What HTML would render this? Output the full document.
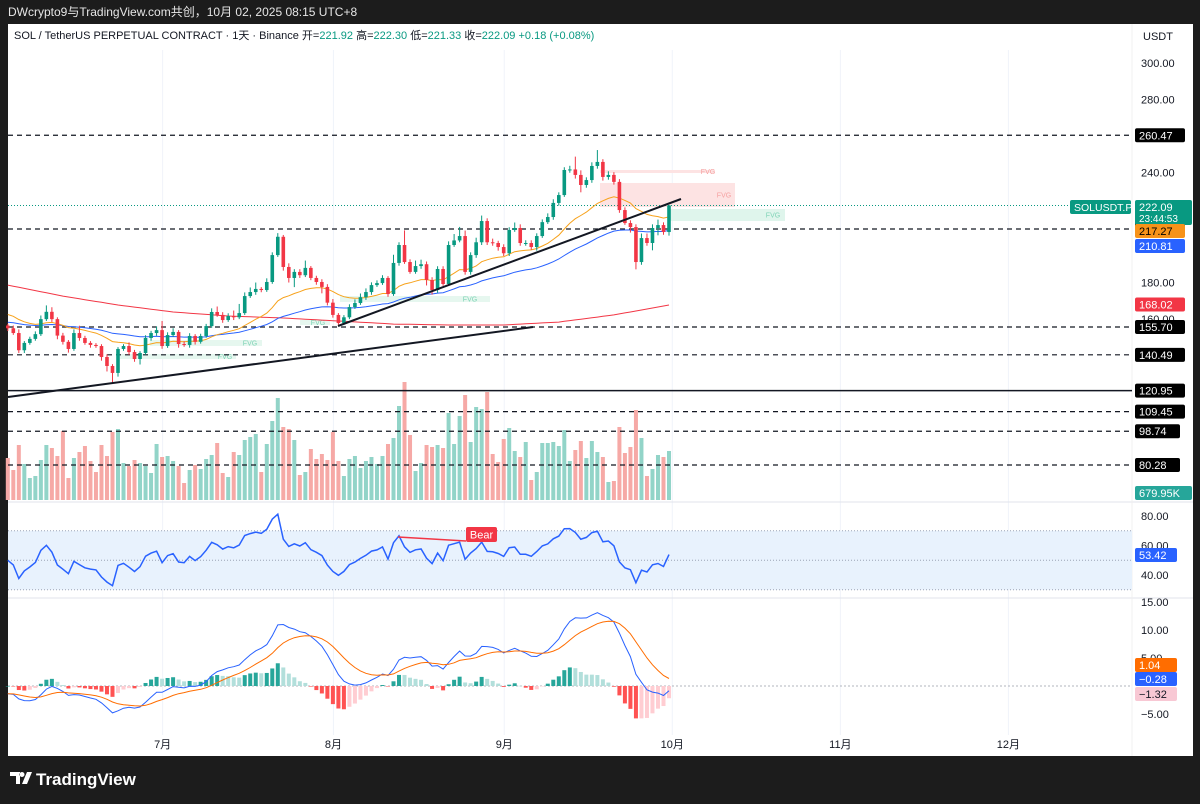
<!DOCTYPE html>
<html><head><meta charset="utf-8">
<style>
body{margin:0;background:#1a1a1a;width:1200px;height:804px;overflow:hidden;font-family:"Liberation Sans","Noto Sans CJK SC",sans-serif}
svg{display:block}
text{font-family:"Liberation Sans","Noto Sans CJK SC",sans-serif}
</style></head>
<body>
<svg id="c" width="1200" height="804" viewBox="0 0 1200 804">
<rect x="0" y="0" width="1200" height="804" fill="#1c1c1c"/>
<text x="8" y="16" fill="#e6e6e6" font-size="12">DWcrypto9与TradingView.com共创，10月 02, 2025 08:15 UTC+8</text>
<rect x="8" y="24" width="1185" height="732" fill="#ffffff"/>
<g id="grid"></g>
<g id="price"></g>
<g id="rsi"></g>
<g id="macd"></g>
<g id="axis"></g>
<text x="14" y="39" font-size="11" fill="#131722">SOL / TetherUS PERPETUAL CONTRACT · 1天 · Binance  开=<tspan fill="#089981">221.92</tspan>  高=<tspan fill="#089981">222.30</tspan>  低=<tspan fill="#089981">221.33</tspan>  收=<tspan fill="#089981">222.09</tspan>  <tspan fill="#089981">+0.18 (+0.08%)</tspan></text>
<text x="1143" y="40" font-size="11" fill="#131722">USDT</text>
<g>
<path d="M10 772h10v12h-4v-8h-6z M22 772a2.5 2.5 0 1 0 0.01 0z M27 772h5l-5 12h-5z" fill="#ffffff"/>
<text x="36" y="785" fill="#ffffff" font-size="17" font-weight="bold">TradingView</text>
</g>
</svg>
<script>
const closes=[155,152.4,143,147,149.2,151.8,160,164,160,151,147.6,143.7,152.4,149.7,147,145.9,145.3,139.3,134.4,130.6,143.7,145.3,142,138.2,141.5,149.7,152.4,154,145.3,151.3,153,146.4,145.9,150.8,147.6,150.8,156.2,163.9,162.3,159.5,161.7,161,163.3,172.6,174.8,176.5,175.9,180.3,195,205,188.5,182.5,185.8,184,188,182.5,180.3,177.6,169,162.3,157.9,161,166.6,168.8,172,174.8,178.6,179.7,182.5,173.7,190.7,200.5,191.2,185.8,189,190,181.4,175.9,187.4,179.2,200.5,203,205.4,185.8,195,202,213.6,202,201.6,199.4,196,208.7,209.8,201.6,201.6,199.4,205.4,213,215.8,223.5,227.8,241.5,241.8,238.8,233.3,236,243.7,245.9,237.7,238.8,235,219.6,212.5,210.3,191.2,204.3,201.6,209.8,211.4,207.6,222.1];
const firstOpen=156.5;
const upperWick=[1,1.5,2,1,1.2,1.5,2,3.5,2.5,1,1.5,1,2,4,1.2,1,1,1,1.5,1,1,1,2,1.2,1,1.5,1.2,2,5,1.5,2,1,1.5,1.5,1,1.2,1.2,2,3,1.5,1.5,3,5,2,2.5,3.5,1,2,1.5,2,1,2,1.5,1.5,4,1,1.2,1.5,1.5,2,1,1.2,1.5,2,2,2,1.5,1.5,1.5,1,4.5,1.5,8,1.5,3,2.5,1.5,1.5,1.5,1.5,2,3.5,5,3,1.5,2.5,3,1.5,2,1.2,1.5,1.5,3,2,1.5,1.5,1.5,1.5,2,2,1.5,1.5,2,7,2.5,1.5,2,6.5,1.5,2,1.5,1.5,1.5,1.5,1.5,2.5,2.5,2,3,1.5,0.3];
const lowerWick=[1.5,1,1.5,1.5,1,1,1,1,1.5,2,1.5,2,1,1.5,1,1.5,1,2,3,5.5,2,1,1.5,1.5,3,1,1.5,1.5,1.5,1,1,2,1,1.5,1.5,1,1,1,1,1.5,1,1.5,1,1,1,1.5,1.2,1,1,1,2,2.5,5,1.5,1,1.2,1.5,3.5,1.5,1.5,1,1,1,1,1,1.5,1.5,1,1,1.5,1,1.5,1,1,1,1.5,3,2.5,1.5,1,1,1,1,1.5,1.5,1.5,1.5,1.5,1.5,2,1.5,1.5,1,1.5,1.5,1.5,2,1,1,1.5,1.5,1,1.5,2,4,1.5,1.5,1.5,2,1.5,1.5,1.5,1,3,4,1.5,1.5,4,4,1.5,2];
const volumes=[42,30,55,36,22,24,40,55,52,44,69,22,42,48,54,39,28,55,44,68,71,37,34,40,37,34,27,56,43,44,39,34,17,30,35,31,41,45,57,27,23,48,45,60,63,66,28,56,79,102,73,71,60,25,28,51,41,46,40,68,39,24,41,44,32,39,43,36,44,56,62,94,118,65,29,37,55,53,55,52,87,56,84,105,58,93,91,108,46,38,61,72,49,43,58,20,28,57,57,58,54,70,39,50,59,42,59,48,43,18,19,73,47,53,90,62,24,31,45,43,49];
const ma200Samples=[178.6,172.6,167.7,163.9,161.7,160.6,159,157.3,156.8,156.8,158.4,162.3,167.7];
const hLevels=[260.47,209.24,155.70,140.49,109.45,98.74,80.28];
const hLevelLabels=["260.47","209.24","155.70","140.49","109.45","98.74","80.28"];
const solidLevel=120.95;
const priceTicks=[300,280,240,180,160];
const monthLabels=["7月","8月","9月","10月","11月","12月"];
const monthIdx=[28.1,59.1,90.1,120.6,151.1,181.6];
const rsiTicks=[80,60,40];
const macdTicks=[15,10,5,-5];

const NS="http://www.w3.org/2000/svg";
const N=closes.length;
const xI=i=>669-(N-1-i)*5.51;
const yP=p=>327-(p-155.7)*1.83;
const yV=v=>500-v;
const yR=v=>575-(v-40)*1.475;
const yM=v=>686-v*5.6;
function mk(tag,attrs,parent){const e=document.createElementNS(NS,tag);for(const k in attrs)e.setAttribute(k,attrs[k]);parent.appendChild(e);return e;}
const G=document.getElementById('grid'),P=document.getElementById('price'),R=document.getElementById('rsi'),M=document.getElementById('macd'),A=document.getElementById('axis');
const opens=closes.map((c,i)=>i?closes[i-1]:firstOpen);

monthIdx.forEach((m,k)=>{
  const x=xI(m);
  const l=mk('line',{x1:x,x2:x,y1:50,y2:735,stroke:'#f0f3fa','stroke-width':1},G);
  
  
  const t=mk('text',{x:x,y:748,'font-size':11,fill:'#131722','text-anchor':'middle'},G);
  t.textContent=monthLabels[k];
  
  
});
[502,598].forEach(y=>{const l=mk('line',{x1:8,x2:1193,y1:y,y2:y,stroke:'#e0e3eb'},G);

});
mk('line',{x1:1132,x2:1132,y1:24,y2:756,stroke:'#f0f0f0'},G);

const fvg=[[600,170,115,3,'#fde3e3','#f5a0a0',708],[600,183,135,24,'#fde3e3','#f5a0a0',724],[668,209,117,12,'#dff5ec','#7fd3b6',773],[340,296,150,6,'#e6f7ef','#7fd3b6',470],[300,320,30,5,'#e6f7ef','#7fd3b6',318],[150,340,112,6,'#e6f7ef','#7fd3b6',250],[120,354,116,5,'#e6f7ef','#7fd3b6',225]];
fvg.forEach(f=>{const b=mk('rect',{x:f[0],y:f[1],width:f[2],height:f[3],fill:f[4]},P);


const t=mk('text',{x:f[6],y:f[1]+f[3]/2+2.5,'font-size':7,fill:f[5],'text-anchor':'middle'},P);t.textContent='FVG';

});

volumes.forEach((v,i)=>{const up=closes[i]>=opens[i];
const r=mk('rect',{x:xI(i)-2,y:yV(v),width:4,height:500-yV(v),fill:up?'#92d4c8':'#f6a9a6'},P);

});

hLevels.forEach(p=>{const l=mk('line',{x1:8,x2:1132,y1:yP(p),y2:yP(p),stroke:'#131722','stroke-width':1.2,'stroke-dasharray':'5,4'},P);

});
const sl=mk('line',{x1:8,x2:1132,y1:yP(solidLevel),y2:yP(solidLevel),stroke:'#131722','stroke-width':1.5},P);


const cp=mk('line',{x1:8,x2:1132,y1:yP(closes[N-1]),y2:yP(closes[N-1]),stroke:'#089981','stroke-width':1,'stroke-dasharray':'1,2'},P);



function ema(arr,n,seed){const k=2/(n+1);let e=seed;return arr.map(v=>(e=v*k+e*(1-k)));}
const ema20=ema(closes,20,163.3), ema50=ema(closes,50,158.4);
function poly(vals,yf,col,w,par){const pts=vals.map((v,i)=>xI(i).toFixed(1)+','+yf(v).toFixed(1)).join(' ');
return mk('polyline',{points:pts,fill:'none',stroke:col,'stroke-width':w},par);}
const ma200=closes.map((c,i)=>{const a=Math.floor(i/10),b=Math.min(a+1,ma200Samples.length-1),t=(i%10)/10;return ma200Samples[a]*(1-t)+ma200Samples[b]*t;});
let pl=poly(ma200,yP,'#f23645',1,P);


pl=poly(ema50,yP,'#2962ff',1,P);


pl=poly(ema20,yP,'#f7a21b',1,P);



closes.forEach((c,i)=>{const o=opens[i],up=c>=o,col=up?'#089981':'#f23645',x=xI(i);
const hi=Math.max(o,c)+upperWick[i],lo=Math.min(o,c)-lowerWick[i];
const w=mk('line',{x1:x,x2:x,y1:yP(hi),y2:yP(lo),stroke:col,'stroke-width':1},P);


const top=yP(Math.max(o,c)),bh=Math.max(1,yP(Math.min(o,c))-top);
const b=mk('rect',{x:x-1.8,y:top,width:3.6,height:bh,fill:col},P);

});

const t1=mk('line',{x1:8,y1:397,x2:533,y2:327,stroke:'#131722','stroke-width':2},P);


const t2=mk('line',{x1:338,y1:326,x2:681,y2:199,stroke:'#131722','stroke-width':2},P);



const rb=mk('rect',{x:8,y:yR(70),width:1124,height:yR(30)-yR(70),fill:'#e8f2fd'},R);


[70,50,30].forEach(v=>{const l=mk('line',{x1:8,x2:1132,y1:yR(v),y2:yR(v),stroke:'#9aa3b5','stroke-dasharray':'1,2'},R);

});
let ag=1.6,al=1.6;const rsi=closes.map((c,i)=>{const d=i?c-closes[i-1]:0;ag=(ag*13+Math.max(d,0))/14;al=(al*13+Math.max(-d,0))/14;return 100-100/(1+ag/al);});
pl=poly(rsi,yR,'#2962ff',1.5,R);


const bl=mk('line',{x1:398,y1:537,x2:466,y2:541,stroke:'#f23645','stroke-width':1.5},R);


const bb=mk('rect',{x:466,y:527,width:31,height:15,rx:2,fill:'#f23645'},R);


const bt=mk('text',{x:481.5,y:538.5,'font-size':11,fill:'#fff','text-anchor':'middle'},R);bt.textContent='Bear';

const m12=ema(closes,12,closes[0]),m26=ema(closes,26,closes[0]+1.5);
const macd=m12.map((v,i)=>v-m26[i]);const sig=ema(macd,9,macd[0]);
const zl=mk('line',{x1:8,x2:1132,y1:yM(0),y2:yM(0),stroke:'#b2b5be','stroke-dasharray':'2,2'},M);


macd.forEach((v,i)=>{const h=v-sig[i],prev=i?macd[i-1]-sig[i-1]:0;
const col=h>=0?(h>=prev?'#26a69a':'#b2dfdb'):(h<=prev?'#ff5252':'#ffcdd2');
const y=Math.min(yM(0),yM(h));const r=mk('rect',{x:xI(i)-2,y:y,width:4,height:Math.max(0.5,Math.abs(yM(h)-yM(0))),fill:col},M);

});
pl=poly(macd,yM,'#2962ff',1,M);


pl=poly(sig,yM,'#ff6d00',1,M);



function tick(txt,y){const t=mk('text',{x:1141,y:y+4,'font-size':11,fill:'#131722'},A);t.textContent=txt;

}
priceTicks.forEach(p=>tick(p.toFixed(2),yP(p)));
rsiTicks.forEach(v=>tick(v.toFixed(2),yR(v)));
macdTicks.forEach(v=>tick(v.toFixed(2).replace('-','−'),yM(v)));
function badge(txt,y,bg,fg,h,w){h=h||14;w=w||50;const r=mk('rect',{x:1135,y:y-h/2,width:w,height:h,rx:2,fill:bg},A);


const t=mk('text',{x:1139,y:y+4,'font-size':11,fill:fg},A);t.textContent=txt;return t;}
hLevels.forEach((p,k)=>badge(hLevelLabels[k],yP(p),'#000','#fff',14,k>=5?45:50));
badge('120.95',yP(solidLevel),'#000','#fff');
const cb=mk('rect',{x:1135,y:200,width:57,height:25,rx:2,fill:'#089981'},A);


const ct=mk('text',{x:1139,y:211,'font-size':11,fill:'#fff'},A);ct.textContent='222.09';
const ct2=mk('text',{x:1139,y:222,'font-size':10,fill:'#fff'},A);ct2.textContent='23:44:53';
const sb=mk('rect',{x:1070,y:200,width:61,height:14,rx:2,fill:'#089981'},A);


const st=mk('text',{x:1074,y:211,'font-size':10.5,fill:'#fff'},A);st.textContent='SOLUSDT.P';
badge('217.27',231,'#f7931a','#000');
badge('210.81',246,'#2962ff','#fff');
badge('168.02',yP(168.02),'#f23645','#fff');
badge('679.95K',493,'#26a69a','#fff',14,57);
badge('53.42',555,'#2962ff','#fff',14,42);
badge('1.04',665,'#ff6d00','#fff',14,42);
badge('−0.28',679,'#2962ff','#fff',14,42);
badge('−1.32',694,'#f8c8d4','#131722',14,42);
</script>
</body></html>
